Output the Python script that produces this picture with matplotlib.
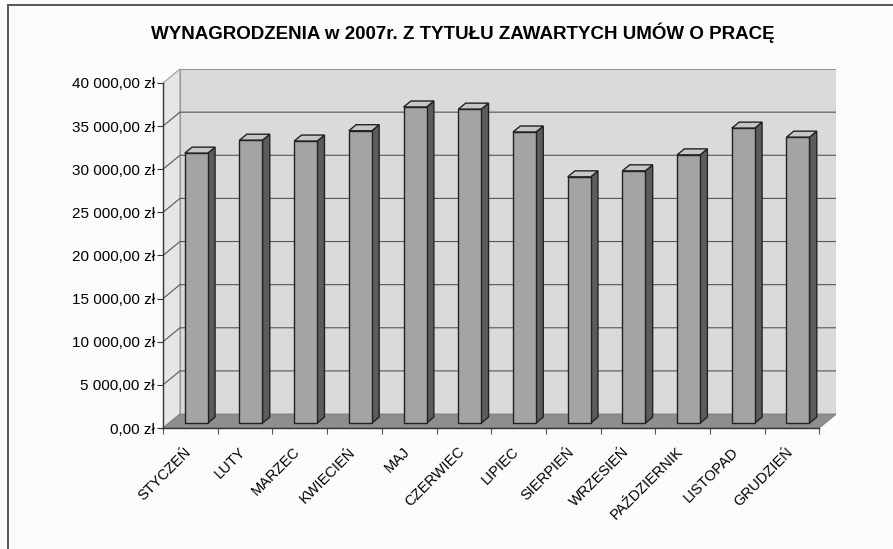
import matplotlib

matplotlib.use("Agg")
import matplotlib.pyplot as plt
from matplotlib.patches import Polygon, Rectangle
from matplotlib.ticker import FuncFormatter, MultipleLocator

plt.rcParams["font.family"] = ["Liberation Sans", "DejaVu Sans"]

TITLE = "WYNAGRODZENIA w 2007r. Z TYTUŁU ZAWARTYCH UMÓW O PRACĘ"
months = ["STYCZEŃ", "LUTY", "MARZEC", "KWIECIEŃ", "MAJ", "CZERWIEC",
          "LIPIEC", "SIERPIEŃ", "WRZESIEŃ", "PAŹDZIERNIK", "LISTOPAD", "GRUDZIEŃ"]
salaries = [31300, 32800, 32700, 33900, 36650, 36400,
            33750, 28550, 29250, 31100, 34200, 33150]
y_ticks = [0, 5000, 10000, 15000, 20000, 25000, 30000, 35000, 40000]

# pseudo-3d look: full depth offset of the walls, and where the bars sit in it
DX, DY = 0.31, 1620
Z_FRONT, Z_BACK = 0.35, 0.78
BAR_W = 0.42


def zl(v, _pos=None):
    return f"{v:,.2f}".replace(",", " ").replace(".", ",") + " zł"


fig = plt.figure(figsize=(8.93, 5.49), dpi=100)
fig.patch.set_facecolor("#fbfbfb")
# frame of the chart object (bottom and right run off the scan)
fig.patches.append(Rectangle((8 / 893, -0.05), 1.0, 1 - 5 / 549 + 0.05, transform=fig.transFigure,
                             fill=False, edgecolor="#555555", lw=1.4))
fig.text(0.518, 1 - 33 / 549, TITLE, ha="center", va="center", fontsize=13.5, fontweight="bold")

ax = fig.add_axes([163 / 893, (549 - 428) / 549, 673 / 893, 360 / 549])
n = len(months)
x0, x1 = -0.5, n - 0.5
ax.set_xlim(x0, x0 + 673 / 54.7)
ax.set_ylim(0, max(y_ticks) * 360 / 345)
ax.set_facecolor("none")

top = max(y_ticks)
# walls and floor
ax.add_patch(Polygon([(x0 + DX, DY), (x1 + DX, DY), (x1 + DX, top + DY), (x0 + DX, top + DY)],
                     closed=True, facecolor="#dadada", edgecolor="#9a9a9a", lw=0.8, zorder=1))
ax.add_patch(Polygon([(x0, 0), (x0 + DX, DY), (x0 + DX, top + DY), (x0, top)],
                     closed=True, facecolor="#e6e6e6", edgecolor="#9a9a9a", lw=0.8, zorder=1))
ax.add_patch(Polygon([(x0, 0), (x1, 0), (x1 + DX, DY), (x0 + DX, DY)],
                     closed=True, facecolor="#8e8e8e", edgecolor="#7a7a7a", lw=0.6, zorder=2))
for v in y_ticks[1:-1]:
    ax.plot([x0, x0 + DX, x1 + DX], [v, v + DY, v + DY], color="#555555", lw=0.8, zorder=2)

# bars: front face through ax.bar, side and top as polygons
xs = list(range(n))
ax.bar([x + Z_FRONT * DX for x in xs], salaries, width=BAR_W, bottom=Z_FRONT * DY,
       color="#a4a4a4", edgecolor="#222222", lw=1.0, zorder=4)
for x, v in zip(xs, salaries):
    r = x + BAR_W / 2
    l = x - BAR_W / 2
    side = [(r + Z_FRONT * DX, Z_FRONT * DY), (r + Z_BACK * DX, Z_BACK * DY),
            (r + Z_BACK * DX, v + Z_BACK * DY), (r + Z_FRONT * DX, v + Z_FRONT * DY)]
    lid = [(l + Z_FRONT * DX, v + Z_FRONT * DY), (r + Z_FRONT * DX, v + Z_FRONT * DY),
           (r + Z_BACK * DX, v + Z_BACK * DY), (l + Z_BACK * DX, v + Z_BACK * DY)]
    ax.add_patch(Polygon(side, closed=True, facecolor="#5c5c5c", edgecolor="#222222", lw=1.0, zorder=3))
    ax.add_patch(Polygon(lid, closed=True, facecolor="#c6c6c6", edgecolor="#222222", lw=1.0, zorder=3))

# axes
for s in ["top", "right"]:
    ax.spines[s].set_visible(False)
ax.spines["left"].set_bounds(0, top)
ax.spines["bottom"].set_bounds(x0, x1)
for s in ["left", "bottom"]:
    ax.spines[s].set_color("#333333")
    ax.spines[s].set_linewidth(1.0)
    ax.spines[s].set_zorder(5)

ax.set_yticks(y_ticks)
ax.yaxis.set_major_formatter(FuncFormatter(zl))
ax.tick_params(axis="y", direction="out", length=4, width=0.8, pad=2, labelsize=11,
               color="#333333")

# labels sit a little left of the category centre, as Excel put them
ax.set_xticks([x - 0.12 for x in xs])
ax.set_xticklabels(months, rotation=45, ha="right", rotation_mode="anchor", fontsize=10.5)
ax.xaxis.set_minor_locator(MultipleLocator(1, offset=0.5))
ax.tick_params(axis="x", which="major", length=0, pad=12)
ax.tick_params(axis="x", which="minor", direction="out", length=4, width=0.8, color="#555555")

fig.savefig("out.png", dpi=100, facecolor=fig.get_facecolor())
